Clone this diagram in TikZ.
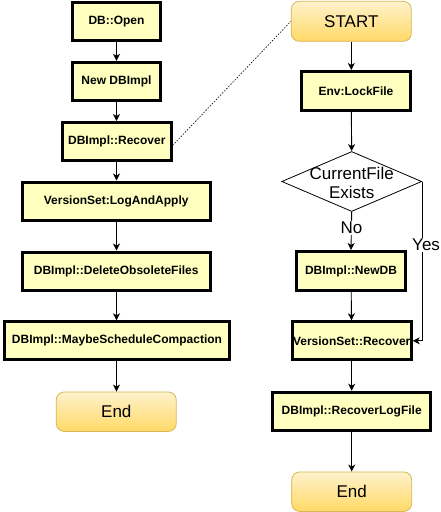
\documentclass[tikz,border=0pt]{standalone}
\usepackage{fontspec}
\setmainfont{Liberation Sans}
\usetikzlibrary{shapes.geometric,arrows.meta}
\definecolor{boxfill}{HTML}{FFFFC0}
\definecolor{termtop}{HTML}{FFF2CC}
\definecolor{termbot}{HTML}{FFD966}
\definecolor{termline}{HTML}{D6B656}
\tikzset{
  procbox/.style={draw=black, line width=3pt, fill=boxfill, inner sep=0pt,
    minimum height=38pt, font=\fontsize{12}{14}\selectfont\bfseries},
  termbox/.style={draw=termline, line width=0.8pt, rounded corners=8pt,
    top color=termtop, bottom color=termbot, inner sep=0pt,
    minimum width=120pt, minimum height=39.5pt, font=\fontsize{17}{20}\selectfont},
  decbox/.style={diamond, draw=black, line width=0.8pt, fill=white, inner sep=0pt,
    minimum width=140pt, minimum height=60pt},
  dectext/.style={align=center, inner sep=0pt, font=\fontsize{17}{20}\selectfont},
  flow/.style={draw=black, line width=0.9pt, -{Stealth[length=7pt,width=7pt,inset=2pt]}},
  lbl/.style={fill=white, inner sep=1pt, font=\fontsize{17}{20}\selectfont},
  link/.style={draw=black, line width=0.6pt, dash pattern=on 1.5pt off 1.5pt}
}
\begin{document}
\begin{tikzpicture}[x=1pt,y=-1pt]
\useasboundingbox (0,0) rectangle (441,512);
% left column
\node[procbox, minimum width=88pt] (open) at (116.5,21.5) {DB::Open};
\node[procbox, minimum width=88pt] (newimpl) at (116.5,81.3) {New DBImpl};
\node[procbox, minimum width=108.5pt] (recover) at (116.8,141.5) {DBImpl::Recover};
\node[procbox, minimum width=188pt] (logapply) at (116.2,201) {VersionSet:LogAndApply};
\node[procbox, minimum width=188pt] (delobs) at (116.2,271) {DBImpl::DeleteObsoleteFiles};
\node[procbox, minimum width=225pt] (maybe) at (117,340.8) {DBImpl::MaybeScheduleCompaction};
\node[termbox] (endl) at (116.3,411.7) {End};
% right column
\node[termbox, minimum height=40pt] (start) at (351.3,21.3) {START};
\node[procbox, minimum width=109pt, minimum height=39pt] (lock) at (356,91) {Env:LockFile};
\node[decbox] (dec) at (351.7,181.5) {};
\node[dectext] (dect) at (351.7,183) {CurrentFile\\[-0.5pt]Exists};
\node[procbox, minimum width=109pt, minimum height=39pt] (newdb) at (351,271) {DBImpl::NewDB};
\node[procbox, minimum width=119pt] (vrec) at (351.7,340.8) {VersionSet::Recover};
\node[procbox, minimum width=158pt] (rlog) at (351.7,411.2) {DBImpl::RecoverLogFile};
\node[termbox] (endr) at (351.7,491.7) {End};
% left connectors
\draw[flow] (open) -- (newimpl);
\draw[flow] (newimpl) -- (recover.north -| newimpl);
\draw[flow] (recover.south -| newimpl) -- (logapply.north -| newimpl);
\draw[flow] (logapply.south -| newimpl) -- (delobs.north -| newimpl);
\draw[flow] (delobs.south -| newimpl) -- (maybe.north -| newimpl);
\draw[flow] (maybe.south -| newimpl) -- (endl.north -| newimpl);
% right connectors
\draw[flow] (start.south) -- (start.south |- lock.north);
\draw[flow] (start.south |- lock.south) -- (dec.north);
\draw[flow] (dec.south) -- node[lbl, pos=0.42] {No} (newdb.north);
\draw[flow] (newdb) -- (vrec);
\draw[flow] (dec.east) -- node[lbl, pos=0.4, xshift=4pt] {Yes} (dec.east |- vrec.east) -- (vrec.east);
\draw[flow] (vrec) -- (rlog);
\draw[flow] (rlog) -- (endr);
% dotted link
\draw[link] ([yshift=-4pt]recover.east) -- (start.west);
\end{tikzpicture}
\end{document}
